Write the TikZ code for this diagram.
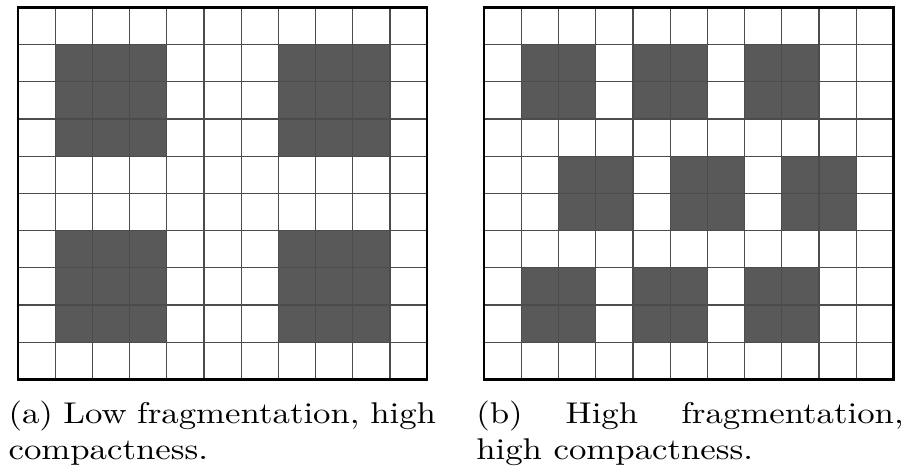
\documentclass[tikz,border=0pt]{standalone}
\usepackage{fontspec}
\setmainfont{Latin Modern Roman}[FakeStretch=1.16]
\usetikzlibrary{positioning}
\tikzset{blk/.style={fill=black!65},gridln/.style={draw=black!70,line width=.4pt},frm/.style={draw=black,line width=.75pt},capt/.style={text width=142.5pt,align=justify,inner sep=0pt,font=\normalsize}}

\begin{document}
\begin{tikzpicture}[x=12.4pt,y=12.4pt]
\useasboundingbox(-.484,-2.527)rectangle(24.14,10.2);
% (a) four big blocks
\foreach\x in{1,7}\foreach\y in{1,6}\fill[blk](\x,\y)rectangle++(3,3);
\draw[gridln,step=1](0,0)grid(11,10);\draw[frm](0,0)rectangle(11,10);
\node[capt,anchor=base west](capA)at(-.27,-1.183){(a) Low fragmentation, high compactness.};
% (b) nine small blocks
\begin{scope}[shift={(12.535,0)}]
\foreach\x in{1,4,7}\foreach\y in{1,7}\fill[blk](\x,\y)rectangle++(2,2);
\foreach\x in{2,5,8}\fill[blk](\x,4)rectangle++(2,2);
\draw[gridln,step=1](0,0)grid(11,10);\draw[frm](0,0)rectangle(11,10);
\end{scope}
\node[capt,right=13pt of capA](capB){(b) High fragmentation,\linebreak high compactness.};
\end{tikzpicture}
\end{document}
